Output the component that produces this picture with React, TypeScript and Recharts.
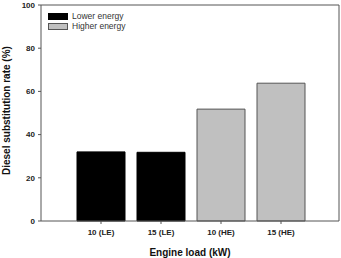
import { Bar, BarChart, CartesianGrid, XAxis, YAxis } from "recharts";

const loads = ["10 (LE)", "15 (LE)", "10 (HE)", "15 (HE)"];
const lowerEnergy = [32, 31.8, null, null];
const higherEnergy = [null, null, 51.8, 63.8];
const yTicks = [0, 20, 40, 60, 80, 100];
const legendItems = [
  { name: "Lower energy", fill: "#000", stroke: "#000" },
  { name: "Higher energy", fill: "#c0c0c0", stroke: "#555" },
];

const data = loads.map((load, i) => ({
  load,
  lower: lowerEnergy[i],
  higher: higherEnergy[i],
}));

const font = "'Liberation Sans', Arial, sans-serif";
const axisColor = "#555";

export default function App() {
  return (
    <div style={{ position: "absolute", left: 0, top: 0, width: 341, height: 258 }}>
      <BarChart
        width={341}
        height={258}
        data={data}
        margin={{ top: 5, right: 2, left: 0, bottom: 0 }}
        barCategoryGap="10%"
      >
        {/* top and right frame lines */}
        <CartesianGrid
          stroke={axisColor}
          strokeWidth={1}
          horizontalCoordinatesGenerator={({ offset }: any) => [offset.top]}
          verticalCoordinatesGenerator={({ offset }: any) => [offset.left + offset.width]}
        />
        <XAxis
          dataKey="load"
          height={37}
          padding={{ left: 30, right: 28 }}
          tickSize={3}
          tickMargin={5}
          stroke={axisColor}
          tick={{ fill: "#222", fontSize: 8, fontWeight: 700, fontFamily: font }}
          label={{
            value: "Engine load (kW)",
            position: "insideBottom",
            offset: 2,
            style: { fill: "#111", fontSize: 10, fontWeight: 700, fontFamily: font },
          }}
        />
        <YAxis
          width={41}
          domain={[0, 100]}
          ticks={yTicks}
          tickSize={3}
          tickMargin={3}
          stroke={axisColor}
          tick={{ fill: "#222", fontSize: 8, fontWeight: 700, fontFamily: font }}
          label={{
            value: "Diesel substitution rate (%)",
            angle: -90,
            position: "insideLeft",
            offset: 6,
            dy: 62,
            style: { fill: "#111", fontSize: 10, fontWeight: 700, fontFamily: font },
          }}
        />
        <Bar dataKey="lower" name="Lower energy" stackId="a" fill="#000" stroke="#000" isAnimationActive={false} />
        <Bar dataKey="higher" name="Higher energy" stackId="a" fill="#c0c0c0" stroke="#555" isAnimationActive={false} />
      </BarChart>
      <div
        style={{
          position: "absolute",
          left: 48,
          top: 11,
          fontFamily: font,
          fontSize: 8.5,
          color: "#333",
        }}
      >
        {legendItems.map((item) => (
          <div key={item.name} style={{ display: "flex", alignItems: "center", height: 10 }}>
            <span
              style={{
                display: "inline-block",
                width: 18,
                height: 5,
                background: item.fill,
                border: `1px solid ${item.stroke}`,
                marginRight: 4,
              }}
            />
            {item.name}
          </div>
        ))}
      </div>
    </div>
  );
}
